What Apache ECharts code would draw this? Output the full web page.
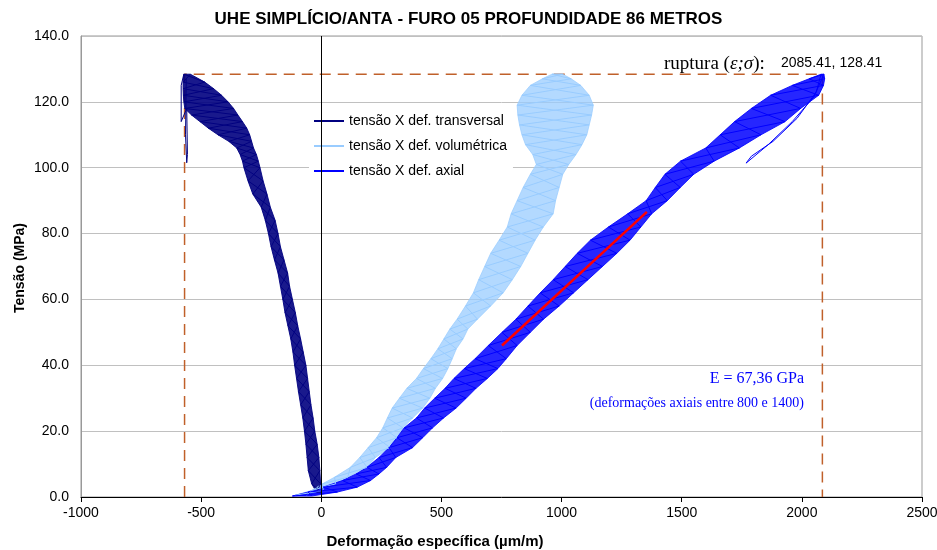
<!DOCTYPE html>
<html>
<head>
<meta charset="utf-8">
<title>UHE Simplício/Anta - Furo 05</title>
<script src="https://cdn.jsdelivr.net/npm/echarts@6/dist/echarts.min.js"></script>
<style>
  html, body { margin: 0; padding: 0; background: #fff; }
  #chart { width: 937px; height: 550px; }
</style>
</head>
<body>
<div id="chart"></div>
<script>
  // eixos
  const xMin = -1000, xMax = 2500, xStep = 500;
  const yMin = 0, yMax = 140, yStep = 20;

  // faixa tensão x def. transversal (lido por nível de tensão)
  const transY = [128.4, 126, 124, 122, 120, 118, 116, 114, 112, 110, 108, 106, 104, 102, 100, 96, 92, 88, 84, 80,
    76, 72, 68, 64, 60, 56, 52, 48, 44, 40, 36, 32, 28, 24, 20, 16, 12, 8, 4, 1.5];
  const transLeft = [-572, -575, -575, -574, -572, -568, -540, -505, -470, -430, -385, -352, -338, -328, -322, -305, -285, -250, -233, -220,
    -209, -195, -180, -170, -160, -151, -139, -127, -118, -111, -103, -95, -86, -77, -70, -64, -59, -54, -40, -20];
  const transRight = [-545, -485, -448, -415, -388, -365, -347, -328, -310, -298, -290, -282, -270, -262, -255, -242, -226, -212, -192, -180,
    -170, -155, -140, -132, -120, -108, -98, -86, -75, -64, -57, -50, -43, -34, -27, -17, -10, -6, -3, -1];
  const transSpike = [[-562, 127], [-565, 110], [-560, 101.5], [-557, 104], [-560, 118], [-583, 114], [-583, 125], [-572, 128.4]];

  // faixa tensão x def. volumétrica
  const volY = [0.5, 2, 4, 6, 9, 12, 15, 18, 21, 24, 27, 30, 33, 36, 39, 42, 45, 48, 51, 54, 58,
    62, 66, 70, 74, 78, 82, 86, 90, 94, 98, 101, 104, 107, 110, 113, 116, 119, 122, 125, 127, 128.4];
  const volLeft = [-110, -40, 5, 55, 121, 160, 195, 230, 256, 275, 295, 325, 356, 396, 425, 456, 485, 510, 535, 565, 600,
    633, 655, 680, 705, 740, 774, 790, 815, 840, 870, 895, 880, 850, 835, 825, 818, 815, 835, 870, 920, 960];
  const volRight = [-60, 8, 60, 110, 191, 225, 287, 315, 340, 380, 422, 452, 475, 505, 527, 545, 562, 590, 610, 650, 705,
    757, 795, 830, 860, 890, 924, 965, 975, 990, 1005, 1030, 1060, 1085, 1105, 1115, 1125, 1132, 1115, 1080, 1040, 1005];

  // faixa tensão x def. axial
  const axY = [0.3, 1.5, 3, 5, 7, 9, 12, 15, 18, 21, 24, 27, 30, 33, 36, 39, 42, 46, 50, 54,
    58, 62, 66, 70, 74, 78, 82, 86, 90, 94, 98, 102, 106, 110, 114, 118, 122, 125, 127, 128.4];
  const axLeft = [-120, -55, 8, 88, 145, 190, 240, 282, 315, 345, 396, 430, 472, 515, 552, 595, 640, 695, 752, 810,
    860, 911, 965, 1015, 1065, 1120, 1195, 1275, 1352, 1390, 1430, 1495, 1600, 1660, 1720, 1790, 1870, 1960, 2030, 2080];
  const axRight = [-40, 67, 150, 205, 240, 272, 310, 380, 422, 463, 509, 561, 603, 644, 691, 735, 770, 815, 870, 925,
    990, 1050, 1110, 1170, 1230, 1285, 1330, 1375, 1440, 1494, 1550, 1635, 1740, 1830, 1930, 1995, 2070, 2090, 2095, 2092];
  const axLoop = [[2050, 121.5], [1960, 114], [1860, 107], [1768, 101.4], [1790, 103.5], [1880, 108], [1980, 115], [2060, 123]];

  // ajuste linear (E = 67,36 GPa) e ponto de ruptura
  const fitLine = [[752, 46.0], [1355, 86.6]];
  const rupture = [2085.41, 128.41];
  const transMin = -569;

  const names = ['tensão X def. transversal', 'tensão X def. volumétrica', 'tensão X def. axial'];
  const colors = ['#000080', '#99CCFF', '#0000FF'];
  const sans = 'Liberation Sans, Arial, sans-serif';
  const serif = 'Liberation Serif, Times New Roman, serif';

  function bandPolygon(ys, left, right) {
    const pts = ys.map((y, i) => [left[i], y]);
    for (let i = ys.length - 1; i >= 0; i--) pts.push([right[i], ys[i]]);
    return pts;
  }

  function scribble(ys, left, right, middle) {
    const out = [];
    for (let i = 0; i < ys.length; i++) out.push(i % 2 ? [right[i], ys[i]] : [left[i], ys[i]]);
    if (middle) out.push(...middle);
    for (let i = ys.length - 1; i >= 0; i--) out.push(i % 2 ? [left[i], ys[i]] : [right[i], ys[i]]);
    return out;
  }

  function bandSeries(poly, color, opacity) {
    return {
      type: 'custom',
      silent: true,
      z: 2,
      data: [poly[0]],
      renderItem: (params, api) => ({
        type: 'polygon',
        shape: { points: poly.map((p) => api.coord(p)) },
        style: { fill: color, opacity: opacity, stroke: color, lineWidth: 1 },
      }),
    };
  }

  function lineSeries(name, data, color) {
    return {
      name: name,
      type: 'line',
      data: data,
      symbol: 'none',
      showSymbol: false,
      z: 3,
      silent: true,
      lineStyle: { color: color, width: 1 },
      itemStyle: { color: color },
    };
  }

  const chart = echarts.init(document.getElementById('chart'));

  chart.setOption({
    animation: false,
    textStyle: { fontFamily: sans },
    title: {
      text: 'UHE SIMPLÍCIO/ANTA - FURO 05 PROFUNDIDADE 86 METROS',
      left: 'center',
      top: 11,
      padding: 0,
      textStyle: { fontSize: 17, fontWeight: 'bold', color: '#000', fontFamily: sans },
    },
    legend: {
      data: names.map((n) => ({ name: n, icon: 'rect' })),
      orient: 'vertical',
      left: 309,
      top: 108,
      padding: [6, 6, 6, 5],
      itemWidth: 30,
      itemHeight: 2,
      itemGap: 11,
      backgroundColor: '#fff',
      selectedMode: false,
      textStyle: { fontSize: 14, color: '#000', fontFamily: sans },
    },
    grid: {
      left: 81,
      right: 15,
      top: 36,
      bottom: 53,
      outerBoundsMode: 'none',
      show: true,
      borderColor: '#999',
      borderWidth: 1,
    },
    xAxis: {
      type: 'value',
      min: xMin,
      max: xMax,
      interval: xStep,
      axisLine: { lineStyle: { color: '#000', width: 1 } },
      axisTick: { show: true, length: 5, lineStyle: { color: '#000' } },
      axisLabel: { fontSize: 14, color: '#000', margin: 9, formatter: (v) => String(v) },
      splitLine: { show: false },
    },
    yAxis: {
      type: 'value',
      min: yMin,
      max: yMax,
      interval: yStep,
      axisLine: { show: true, onZero: false, lineStyle: { color: '#999' } },
      axisTick: { show: false },
      axisLabel: { fontSize: 14, color: '#000', margin: 12, formatter: (v) => v.toFixed(1) },
      splitLine: { lineStyle: { color: '#C0C0C0', width: 1 } },
    },
    graphic: [
      {
        type: 'text', x: 435, y: 542,
        style: { text: 'Deformação específica (µm/m)', font: 'bold 15px ' + sans, fill: '#000', align: 'center', verticalAlign: 'middle' },
      },
      {
        type: 'text', x: 20, y: 268, rotation: Math.PI / 2,
        style: { text: 'Tensão (MPa)', font: 'bold 14px ' + sans, fill: '#000', align: 'center', verticalAlign: 'middle' },
      },
      {
        type: 'text', x: 664, y: 64, z: 10,
        style: {
          text: '{a|ruptura (}{b|ε;σ}{a|):}',
          verticalAlign: 'middle',
          rich: {
            a: { fontFamily: serif, fontSize: 19, fill: '#000' },
            b: { fontFamily: serif, fontSize: 19, fontStyle: 'italic', fill: '#000' },
          },
        },
      },
      {
        type: 'text', x: 781, y: 63, z: 10,
        style: { text: rupture[0].toFixed(2) + ', ' + rupture[1].toFixed(2), font: '14px ' + sans, fill: '#000', verticalAlign: 'middle' },
      },
      {
        type: 'text', x: 804, y: 379, z: 10,
        style: { text: 'E = 67,36 GPa', font: '16px ' + serif, fill: '#0000FF', align: 'right', verticalAlign: 'middle' },
      },
      {
        type: 'text', x: 804, y: 403, z: 10,
        style: { text: '(deformações axiais entre 800 e 1400)', font: '14px ' + serif, fill: '#0000FF', align: 'right', verticalAlign: 'middle' },
      },
    ],
    series: [
      {
        type: 'line',
        data: [[transMin, 0], [transMin, rupture[1]], [rupture[0], rupture[1]], [rupture[0], 0]],
        symbol: 'none',
        silent: true,
        z: 1,
        lineStyle: { color: '#C0602A', width: 1.5, type: [11, 7] },
        markLine: {
          silent: true,
          symbol: ['none', 'none'],
          label: { show: false },
          lineStyle: { color: '#000', type: 'solid', width: 1 },
          data: [{ xAxis: 0 }],
        },
      },
      bandSeries(bandPolygon(transY, transLeft, transRight), colors[0], 0.9),
      lineSeries(names[0], transSpike.concat(scribble(transY, transLeft, transRight)), colors[0]),
      bandSeries(bandPolygon(volY, volLeft, volRight), colors[1], 0.75),
      lineSeries(names[1], scribble(volY, volLeft, volRight), colors[1]),
      bandSeries(bandPolygon(axY, axLeft, axRight), colors[2], 0.85),
      lineSeries(names[2], scribble(axY, axLeft, axRight, axLoop), colors[2]),
      {
        type: 'line',
        data: fitLine,
        symbol: 'none',
        silent: true,
        z: 5,
        lineStyle: { color: '#FF0000', width: 2.5 },
      },
    ],
  });

  window.addEventListener('resize', () => chart.resize());
</script>
</body>
</html>
